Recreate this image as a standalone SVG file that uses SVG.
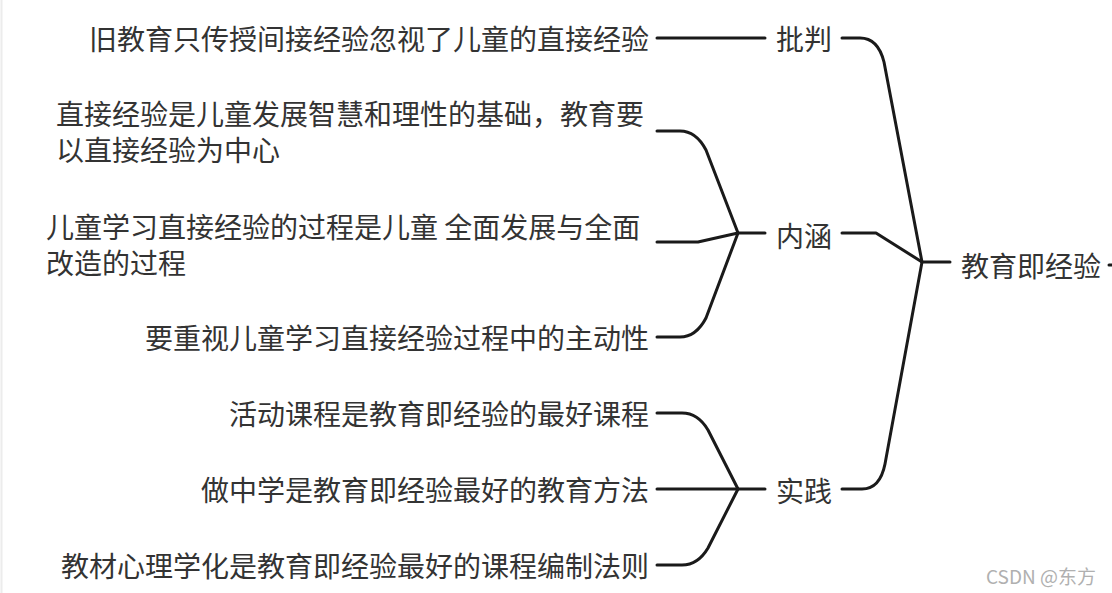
<svg xmlns="http://www.w3.org/2000/svg" width="1112" height="593" viewBox="0 0 1112 593">
<style>
  .t { font-family: "Noto Sans CJK SC", "Noto Sans", "Liberation Sans", sans-serif; font-size: 28px; fill: #333333; dominant-baseline: central; }
  .r { text-anchor: end; }
  .c { fill: none; stroke: #1a1a1a; stroke-width: 3; stroke-linecap: round; stroke-linejoin: round; }
  .wm { font-family: "Noto Sans CJK SC", "Noto Sans", "Liberation Sans", sans-serif; font-size: 19px; fill: #b0b0b0; dominant-baseline: central; }
</style>
<rect x="0" y="0" width="1112" height="593" fill="#ffffff"/>
<line x1="1.5" y1="0" x2="1.5" y2="593" stroke="#ececec" stroke-width="2"/>

<g id="connectors">
  <path class="c" d="M657,38 L765,38"/>
  <path class="c" d="M657,131 L680,131 Q696,131 706,150 L738,233"/>
  <path class="c" d="M657,242 L698,242 L738,233"/>
  <path class="c" d="M657,337 L680,337 Q696,337 706,318 L738,233"/>
  <path class="c" d="M738,233 L765,233"/>
  <path class="c" d="M657,413 L682,413 Q698,413 708,430 L738,489"/>
  <path class="c" d="M657,489 L738,489"/>
  <path class="c" d="M657,565 L682,565 Q698,565 708,548 L738,489"/>
  <path class="c" d="M738,489 L765,489"/>
  <path class="c" d="M842,38 L860,38 Q878,38 884,62 L922,262"/>
  <path class="c" d="M842,233 L876,233 L922,262"/>
  <path class="c" d="M842,489 L862,489 Q880,489 885,464 L922,262"/>
  <path class="c" d="M922,262 L950,262"/>
  <path class="c" d="M1109,265 L1113,265"/>
</g>

<g id="node-root"><text class="t" x="961" y="265">教育即经验</text></g>
<g id="node-pipan"><text class="t" x="776" y="38">批判</text></g>
<g id="node-neihan"><text class="t" x="776" y="235">内涵</text></g>
<g id="node-shijian"><text class="t" x="776" y="490">实践</text></g>

<g id="node-p1"><text class="t r" x="649" y="38">旧教育只传授间接经验忽视了儿童的直接经验</text></g>
<g id="node-n1">
  <text class="t"><tspan x="56" y="113">直接经验是儿童发展智慧和理性的基础，教育要</tspan><tspan x="56" y="149">以直接经验为中心</tspan></text>
</g>
<g id="node-n2">
  <text class="t"><tspan x="46" y="226">儿童学习直接经验的过程是儿童 全面发展与全面</tspan><tspan x="46" y="262">改造的过程</tspan></text>
</g>
<g id="node-n3"><text class="t r" x="649" y="337">要重视儿童学习直接经验过程中的主动性</text></g>
<g id="node-s1"><text class="t r" x="649" y="413">活动课程是教育即经验的最好课程</text></g>
<g id="node-s2"><text class="t r" x="649" y="489">做中学是教育即经验最好的教育方法</text></g>
<g id="node-s3"><text class="t r" x="649" y="565">教材心理学化是教育即经验最好的课程编制法则</text></g>

<text class="wm" x="986" y="575">CSDN @东方</text>
</svg>
